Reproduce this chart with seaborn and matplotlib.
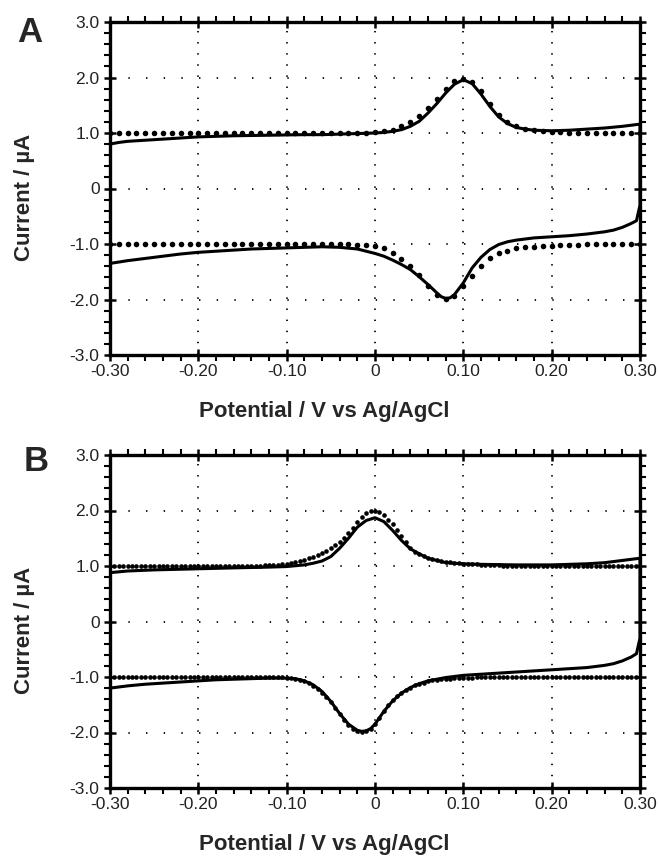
import matplotlib.pyplot as plt
import seaborn as sns
from matplotlib.ticker import FixedLocator, FixedFormatter, MultipleLocator

sns.set_style("ticks")
plt.rcParams["font.family"] = ["Liberation Sans", "DejaVu Sans"]
plt.rcParams["axes.unicode_minus"] = False
plt.rcParams["lines.scale_dashes"] = False

# ---- panel A: simulated points (dots) ----
A_POT = [-0.30, -0.29, -0.28, -0.27, -0.26, -0.25, -0.24, -0.23, -0.22, -0.21,
         -0.20, -0.19, -0.18, -0.17, -0.16, -0.15, -0.14, -0.13, -0.12, -0.11,
         -0.10, -0.09, -0.08, -0.07, -0.06, -0.05, -0.04, -0.03, -0.02, -0.01,
         0.00, 0.01, 0.02, 0.03, 0.04, 0.05, 0.06, 0.07, 0.08, 0.09,
         0.10, 0.11, 0.12, 0.13, 0.14, 0.15, 0.16, 0.17, 0.18, 0.19,
         0.20, 0.21, 0.22, 0.23, 0.24, 0.25, 0.26, 0.27, 0.28, 0.29,
         0.30]
A_SIM_OX = [1.00, 1.00, 1.00, 1.00, 1.00, 1.00, 1.00, 1.00, 1.00, 1.00,
            1.00, 1.00, 1.00, 1.00, 1.00, 1.00, 1.00, 1.00, 1.00, 1.00,
            1.00, 1.00, 1.00, 1.00, 1.00, 1.00, 1.00, 1.00, 1.00, 1.00,
            1.02, 1.03, 1.06, 1.13, 1.20, 1.31, 1.45, 1.62, 1.80, 1.93,
            1.98, 1.92, 1.75, 1.52, 1.32, 1.20, 1.12, 1.08, 1.05, 1.03,
            1.02, 1.01, 1.00, 1.00, 1.00, 1.00, 1.00, 1.00, 1.00, 1.00,
            1.00]
A_SIM_RED = [-1.00, -1.00, -1.00, -1.00, -1.00, -1.00, -1.00, -1.00, -1.00, -1.00,
             -1.00, -1.00, -1.00, -1.00, -1.00, -1.00, -1.00, -1.00, -1.00, -1.00,
             -1.00, -1.00, -1.00, -1.00, -1.00, -1.00, -1.00, -1.00, -1.01, -1.02,
             -1.04, -1.08, -1.16, -1.27, -1.39, -1.56, -1.75, -1.91, -1.99, -1.93,
             -1.76, -1.58, -1.40, -1.26, -1.17, -1.12, -1.08, -1.06, -1.05, -1.04,
             -1.03, -1.02, -1.02, -1.01, -1.00, -1.00, -1.00, -1.00, -1.00, -1.00,
             -1.00]

# ---- panel A: measured CV (solid loop) ----
A_CV_POT = [-0.30, -0.28, -0.26, -0.24, -0.22, -0.20, -0.18, -0.16, -0.14, -0.12,
            -0.10, -0.08, -0.06, -0.04, -0.02, 0.00, 0.01, 0.02, 0.03, 0.04,
            0.05, 0.06, 0.07, 0.075, 0.08, 0.085, 0.09, 0.10, 0.11, 0.12,
            0.13, 0.14, 0.15, 0.16, 0.18, 0.20, 0.22, 0.24, 0.26, 0.27,
            0.28, 0.29, 0.296, 0.30,
            0.30, 0.28, 0.26, 0.24, 0.22, 0.20, 0.18, 0.17, 0.16, 0.15,
            0.14, 0.13, 0.12, 0.11, 0.10, 0.09, 0.08, 0.07, 0.06, 0.05,
            0.04, 0.03, 0.02, 0.01, 0.00, -0.02, -0.04, -0.06, -0.08, -0.10,
            -0.12, -0.14, -0.16, -0.18, -0.20, -0.22, -0.24, -0.26, -0.28, -0.29,
            -0.30, -0.30]
A_CV_CUR = [-1.35, -1.30, -1.26, -1.22, -1.18, -1.15, -1.13, -1.11, -1.09, -1.08,
            -1.07, -1.06, -1.05, -1.06, -1.09, -1.17, -1.22, -1.29, -1.37, -1.46,
            -1.59, -1.73, -1.88, -1.95, -1.98, -1.97, -1.91, -1.70, -1.43, -1.24,
            -1.10, -1.01, -0.96, -0.93, -0.89, -0.87, -0.85, -0.82, -0.78, -0.75,
            -0.70, -0.63, -0.58, -0.30,
            1.16, 1.12, 1.09, 1.07, 1.05, 1.04, 1.05, 1.07, 1.10, 1.17,
            1.29, 1.48, 1.70, 1.89, 1.96, 1.88, 1.72, 1.53, 1.36, 1.21,
            1.12, 1.06, 1.03, 1.01, 1.00, 0.99, 0.98, 0.97, 0.97, 0.965,
            0.96, 0.955, 0.95, 0.94, 0.93, 0.91, 0.89, 0.87, 0.85, 0.83,
            0.80, -1.35]

# ---- panel B: simulated points (dots) ----
B_POT = [-0.300, -0.295, -0.290, -0.285, -0.280, -0.275, -0.270, -0.265, -0.260, -0.255,
         -0.250, -0.245, -0.240, -0.235, -0.230, -0.225, -0.220, -0.215, -0.210, -0.205,
         -0.200, -0.195, -0.190, -0.185, -0.180, -0.175, -0.170, -0.165, -0.160, -0.155,
         -0.150, -0.145, -0.140, -0.135, -0.130, -0.125, -0.120, -0.115, -0.110, -0.105,
         -0.100, -0.095, -0.090, -0.085, -0.080, -0.075, -0.070, -0.065, -0.060, -0.055,
         -0.050, -0.045, -0.040, -0.035, -0.030, -0.025, -0.020, -0.015, -0.010, -0.005,
         0.000, 0.005, 0.010, 0.015, 0.020, 0.025, 0.030, 0.035, 0.040, 0.045,
         0.050, 0.055, 0.060, 0.065, 0.070, 0.075, 0.080, 0.085, 0.090, 0.095,
         0.100, 0.105, 0.110, 0.115, 0.120, 0.125, 0.130, 0.135, 0.140, 0.145,
         0.150, 0.155, 0.160, 0.165, 0.170, 0.175, 0.180, 0.185, 0.190, 0.195,
         0.200, 0.205, 0.210, 0.215, 0.220, 0.225, 0.230, 0.235, 0.240, 0.245,
         0.250, 0.255, 0.260, 0.265, 0.270, 0.275, 0.280, 0.285, 0.290, 0.295,
         0.300]
B_SIM_OX = [1.00, 1.00, 1.00, 1.00, 1.00, 1.00, 1.00, 1.00, 1.00, 1.00,
            1.00, 1.00, 1.00, 1.00, 1.00, 1.00, 1.00, 1.00, 1.00, 1.00,
            1.00, 1.00, 1.00, 1.00, 1.00, 1.00, 1.00, 1.00, 1.00, 1.00,
            1.00, 1.00, 1.00, 1.00, 1.00, 1.01, 1.01, 1.02, 1.02, 1.03,
            1.04, 1.05, 1.07, 1.09, 1.11, 1.14, 1.16, 1.19, 1.23, 1.27,
            1.32, 1.38, 1.44, 1.51, 1.59, 1.69, 1.79, 1.88, 1.95, 1.99,
            2.00, 1.98, 1.92, 1.83, 1.75, 1.65, 1.54, 1.43, 1.33, 1.26,
            1.21, 1.18, 1.15, 1.12, 1.10, 1.09, 1.08, 1.07, 1.06, 1.05,
            1.04, 1.04, 1.03, 1.03, 1.02, 1.02, 1.02, 1.01, 1.01, 1.00,
            1.00, 1.00, 1.00, 1.00, 1.00, 1.00, 1.00, 1.00, 1.00, 1.00,
            1.00, 1.00, 1.00, 1.00, 1.00, 1.00, 1.00, 1.00, 1.00, 1.00,
            1.00, 1.00, 1.00, 1.00, 1.00, 1.00, 1.00, 1.00, 1.00, 1.00,
            1.00]
B_SIM_RED = [-1.00, -1.00, -1.00, -1.00, -1.00, -1.00, -1.00, -1.00, -1.00, -1.00,
             -1.00, -1.00, -1.00, -1.00, -1.00, -1.00, -1.00, -1.00, -1.00, -1.00,
             -1.00, -1.00, -1.00, -1.00, -1.00, -1.00, -1.00, -1.00, -1.00, -1.00,
             -1.00, -1.00, -1.00, -1.00, -1.00, -1.00, -1.00, -1.00, -1.00, -1.00,
             -1.01, -1.02, -1.03, -1.05, -1.08, -1.11, -1.16, -1.22, -1.29, -1.36,
             -1.45, -1.55, -1.66, -1.77, -1.86, -1.93, -1.97, -1.99, -1.98, -1.93,
             -1.84, -1.73, -1.61, -1.50, -1.42, -1.35, -1.29, -1.24, -1.19, -1.15,
             -1.12, -1.10, -1.08, -1.06, -1.05, -1.04, -1.03, -1.03, -1.02, -1.02,
             -1.01, -1.01, -1.01, -1.00, -1.00, -1.00, -1.00, -1.00, -1.00, -1.00,
             -1.00, -1.00, -1.00, -1.00, -1.00, -1.00, -1.00, -1.00, -1.00, -1.00,
             -1.00, -1.00, -1.00, -1.00, -1.00, -1.00, -1.00, -1.00, -1.00, -1.00,
             -1.00, -1.00, -1.00, -1.00, -1.00, -1.00, -1.00, -1.00, -1.00, -1.00,
             -1.00]

# ---- panel B: measured CV (solid loop) ----
B_CV_POT = [-0.30, -0.28, -0.26, -0.24, -0.22, -0.20, -0.18, -0.16, -0.14, -0.12,
            -0.10, -0.09, -0.08, -0.07, -0.06, -0.05, -0.04, -0.03, -0.02, -0.015,
            -0.01, -0.005, 0.00, 0.01, 0.02, 0.03, 0.04, 0.05, 0.06, 0.07,
            0.08, 0.10, 0.12, 0.14, 0.16, 0.18, 0.20, 0.22, 0.24, 0.26,
            0.27, 0.28, 0.29, 0.296, 0.30,
            0.30, 0.28, 0.26, 0.24, 0.22, 0.20, 0.16, 0.12, 0.10, 0.08,
            0.06, 0.05, 0.04, 0.03, 0.02, 0.01, 0.00, -0.01, -0.02, -0.03,
            -0.04, -0.05, -0.06, -0.07, -0.08, -0.10, -0.12, -0.15, -0.20, -0.25,
            -0.28, -0.30, -0.30]
B_CV_CUR = [-1.20, -1.16, -1.13, -1.11, -1.09, -1.07, -1.05, -1.04, -1.03, -1.02,
            -1.02, -1.03, -1.07, -1.14, -1.26, -1.44, -1.66, -1.85, -1.96, -1.98,
            -1.97, -1.93, -1.85, -1.62, -1.43, -1.29, -1.19, -1.12, -1.07, -1.04,
            -1.01, -0.97, -0.95, -0.93, -0.91, -0.89, -0.87, -0.85, -0.83, -0.79,
            -0.76, -0.71, -0.64, -0.58, -0.30,
            1.14, 1.10, 1.06, 1.04, 1.03, 1.02, 1.02, 1.03, 1.04, 1.06,
            1.14, 1.22, 1.31, 1.46, 1.64, 1.80, 1.87, 1.82, 1.70, 1.50,
            1.32, 1.17, 1.09, 1.05, 1.02, 0.99, 0.98, 0.97, 0.95, 0.93,
            0.91, 0.88, -1.20]

X_TICKS = [-0.30, -0.20, -0.10, 0.0, 0.10, 0.20, 0.30]
X_LABELS = ["-0.30", "-0.20", "-0.10", "0", "0.10", "0.20", "0.30"]
Y_TICKS = [-3.0, -2.0, -1.0, 0.0, 1.0, 2.0, 3.0]
Y_LABELS = ["-3.0", "-2.0", "-1.0", "0", "1.0", "2.0", "3.0"]

W, H = 658, 857
fig = plt.figure(figsize=(W / 100, H / 100), dpi=100)
ax_w, ax_h = 530, 333
ax_a = fig.add_axes([110 / W, 1 - 355 / H, ax_w / W, ax_h / H])
ax_b = fig.add_axes([110 / W, 1 - 788 / H, ax_w / W, ax_h / H])

# dot spacing of the grid = one minor step (in points)
v_step = ax_h / 30 * 0.72
h_step = ax_w / 30 * 0.72

panels = [
    (ax_a, A_POT, A_SIM_OX, A_SIM_RED, A_CV_POT, A_CV_CUR, 16, "A", 30, 33),
    (ax_b, B_POT, B_SIM_OX, B_SIM_RED, B_CV_POT, B_CV_CUR, 11, "B", 36, 461),
]

for ax, pot, ox, red, cv_pot, cv_cur, dot_s, letter, lx, ly in panels:
    sns.lineplot(x=cv_pot, y=cv_cur, sort=False, estimator=None,
                 color="black", lw=2.2, ax=ax, zorder=3)
    for sim in (ox, red):
        sns.scatterplot(x=pot, y=sim, s=dot_s, color="black",
                        linewidth=0, ax=ax, zorder=4)

    ax.set_xlim(-0.30, 0.30)
    ax.set_ylim(-3.0, 3.0)
    ax.xaxis.set_major_locator(FixedLocator(X_TICKS))
    ax.xaxis.set_major_formatter(FixedFormatter(X_LABELS))
    ax.yaxis.set_major_locator(FixedLocator(Y_TICKS))
    ax.yaxis.set_major_formatter(FixedFormatter(Y_LABELS))
    ax.xaxis.set_minor_locator(MultipleLocator(0.02))
    ax.yaxis.set_minor_locator(MultipleLocator(0.2))

    ax.tick_params(which="both", top=True, right=True, color="black")
    ax.tick_params(which="major", direction="inout", length=9, width=1.8,
                   labelsize=12.5, labelcolor="#222222")
    ax.tick_params(which="minor", direction="out", length=4, width=1.5)
    ax.tick_params(axis="x", which="major", pad=2)
    ax.tick_params(axis="y", which="major", pad=3)
    for sp in ax.spines.values():
        sp.set_linewidth(2.4)
        sp.set_color("black")

    # dotted grid, dots sitting on the minor ticks
    ax.set_axisbelow(True)
    ax.xaxis.grid(True, which="major", color="black", lw=1.3,
                  linestyle=(v_step - 0.5, (1.0, v_step - 1.0)))
    ax.yaxis.grid(True, which="major", color="black", lw=1.3,
                  linestyle=(h_step - 0.5, (1.0, h_step - 1.0)))

    ax.set_xlabel("Potential / V vs Ag/AgCl", fontsize=16, fontweight="bold")
    ax.xaxis.set_label_coords(0.404, -0.171)
    ax.xaxis.label.set_va("center")
    ax.set_ylabel("Current / µA", fontsize=16, fontweight="bold")
    ax.yaxis.set_label_coords(-0.162, 0.474)
    ax.yaxis.label.set_va("center")
    ax.yaxis.label.set_ha("center")

    fig.text(lx / W, 1 - ly / H, letter, fontsize=25, fontweight="bold",
             ha="center", va="center")

fig.savefig("out.png", dpi=100)
